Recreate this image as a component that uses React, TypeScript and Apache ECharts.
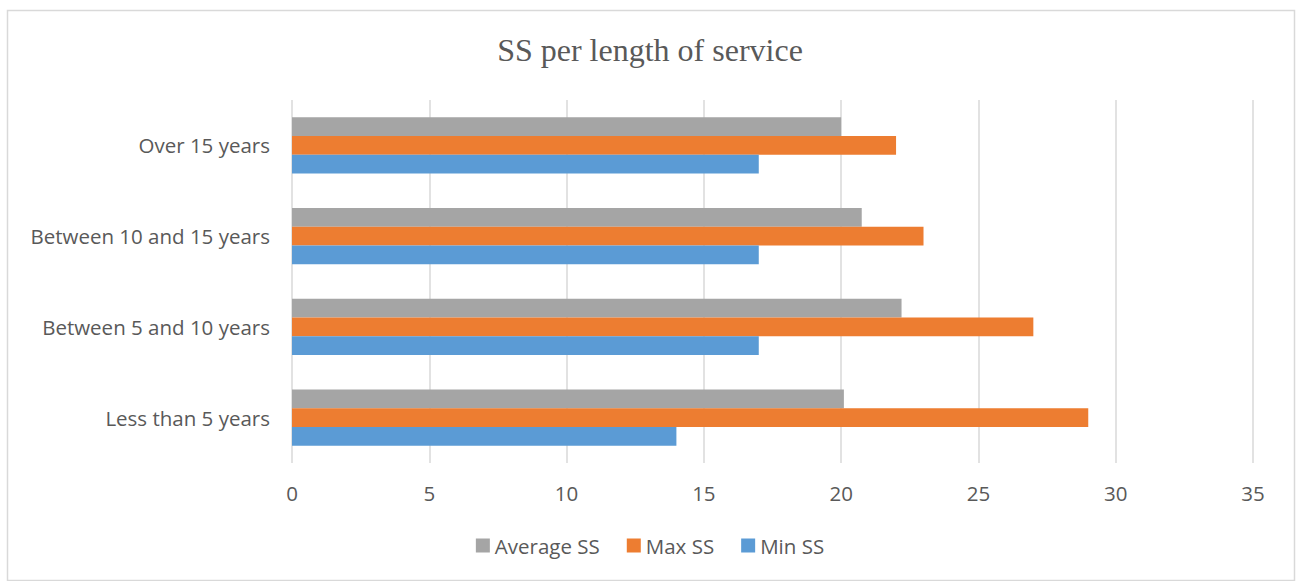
import React, { useEffect, useRef } from "react";
import * as echarts from "echarts";

// Categories listed bottom-to-top along the vertical category axis
const categories = [
  "Less than 5 years",
  "Between 5 and 10 years",
  "Between 10 and 15 years",
  "Over 15 years",
];

const averageSS = [20.1, 22.2, 20.75, 20];
const maxSS = [29, 27, 23, 22];
const minSS = [14, 17, 17, 17];

const xTicks = { min: 0, max: 35, interval: 5 };

const TEXT = "#595959";
const FONT = "'Open Sans', 'Noto Sans', sans-serif";

export default function App() {
  const ref = useRef<HTMLDivElement>(null);

  useEffect(() => {
    document.body.style.margin = "0";
    if (!ref.current) return;
    const chart = echarts.init(ref.current, undefined, { renderer: "svg" });

    const barStyle = { barGap: "0%", barCategoryGap: "38%" };

    chart.setOption({
      animation: false,
      backgroundColor: "#ffffff",
      title: {
        text: "SS per length of service",
        left: "center",
        top: 29,
        textStyle: {
          fontFamily: "'Liberation Serif', 'Times New Roman', serif",
          fontSize: 32,
          fontWeight: "normal",
          color: TEXT,
        },
      },
      graphic: [
        {
          type: "rect",
          shape: { x: 7.5, y: 10.5, width: 1287, height: 570 },
          style: { fill: "none", stroke: "#d9d9d9", lineWidth: 1.5 },
          silent: true,
        },
      ],
      legend: {
        bottom: 20,
        left: "center",
        itemWidth: 14,
        itemHeight: 14,
        itemGap: 27,
        icon: "rect",
        data: ["Average SS", "Max SS", "Min SS"],
        textStyle: { fontFamily: FONT, fontSize: 20.5, color: TEXT },
      },
      grid: { left: 292, right: 47, top: 100, bottom: 118 },
      xAxis: {
        type: "value",
        min: xTicks.min,
        max: xTicks.max,
        interval: xTicks.interval,
        axisLine: { show: false },
        axisTick: { show: false },
        axisLabel: {
          margin: 19,
          fontFamily: FONT,
          fontSize: 20.5,
          color: TEXT,
        },
        splitLine: { lineStyle: { color: "#d9d9d9", width: 1.5 } },
      },
      yAxis: {
        type: "category",
        data: categories,
        axisLine: { show: false },
        axisTick: { show: false },
        axisLabel: {
          margin: 22,
          fontFamily: FONT,
          fontSize: 20.5,
          color: TEXT,
        },
      },
      series: [
        {
          name: "Average SS",
          type: "bar",
          data: averageSS,
          itemStyle: { color: "#A5A5A5" },
          ...barStyle,
        },
        {
          name: "Max SS",
          type: "bar",
          data: maxSS,
          itemStyle: { color: "#ED7D31" },
          ...barStyle,
        },
        {
          name: "Min SS",
          type: "bar",
          data: minSS,
          itemStyle: { color: "#5B9BD5" },
          ...barStyle,
        },
      ],
    });

    return () => chart.dispose();
  }, []);

  return <div ref={ref} style={{ width: 1300, height: 581 }} />;
}
